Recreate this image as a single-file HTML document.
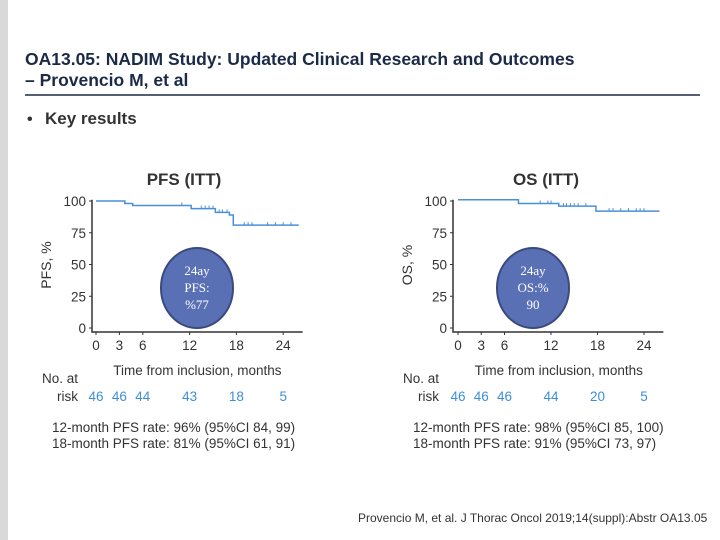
<!DOCTYPE html>
<html><head><meta charset="utf-8"><style>
body{margin:0;width:720px;height:540px;background:#fff;overflow:hidden;font-family:"Liberation Sans",sans-serif;position:relative}
</style></head><body>
<div style="position:absolute;left:0;top:0;width:8px;height:540px;background:#d9d9d9"></div>
<svg width="720" height="540" style="position:absolute;left:0;top:0" font-family="Liberation Sans, sans-serif">
<text x="25" y="65" font-size="17.5" font-weight="bold" fill="#1b2a47">OA13.05: NADIM Study: Updated Clinical Research and Outcomes</text>
<text x="25" y="86" font-size="17.5" font-weight="bold" fill="#1b2a47">– Provencio M, et al</text>
<line x1="25" y1="95" x2="700" y2="95" stroke="#1b2a47" stroke-width="1.5"/>
<text x="27" y="124" font-size="16" font-weight="bold" fill="#333">•</text>
<text x="45" y="124" font-size="17" font-weight="bold" fill="#333">Key results</text>
<g id="pfs"></g><g id="os"></g>
<text x="358" y="522" font-size="12" fill="#333">Provencio M, et al. J Thorac Oncol 2019;14(suppl):Abstr OA13.05</text>
</svg>
<script>
const xTicks=[0,3,6,12,18,24];
const yTicks=[0,25,50,75,100];
const pfsTimes=[0,3.7,4.7,12.2,15.3,17.1,17.6,26];
const pfsVals=[100,98,96.5,94,91,89,81,81];
const pfsCens=[11,13.5,14,14.5,15,15.8,16.2,16.8,19,19.5,20,22,23,24,25];
const osTimes=[0,7.8,13,17.8,26];
const osVals=[101,98,96,92,92];
const osCens=[10.6,11.6,12,13.6,14,14.5,15,15.5,16.5,19.5,20,21,22,23,23.5,24];
const pfsRisk=["46","46","44","43","18","5"];
const osRisk=["46","46","46","44","20","5"];
const NS="http://www.w3.org/2000/svg";
function mk(p,t,a){const e=document.createElementNS(NS,t);for(const k in a)e.setAttribute(k,a[k]);p.appendChild(e);return e;}
function chart(g,o){
 const x=v=>o.x0+v*o.sx, y=v=>o.y0-v*1.27;
 let t=mk(g,'text',{x:o.x0+88,y:185,'font-size':17,'font-weight':'bold',fill:'#333','text-anchor':'middle'});t.textContent=o.title;
 
 
 let yl=mk(g,'text',{transform:`translate(${o.ax-41},265) rotate(-90)`,'font-size':14,fill:'#333','text-anchor':'middle'});yl.textContent=o.ylab;
 
 
 let a=mk(g,'path',{d:`M${o.ax} ${y(101)}V${o.y0+4}H${x(26.5)}`,stroke:'#333','stroke-width':1.5,fill:'none'});
 
 
 yTicks.forEach(v=>{mk(g,'line',{x1:o.ax-3,x2:o.ax,y1:y(v),y2:y(v),stroke:'#333'});
  const l=mk(g,'text',{x:o.ax-6,y:y(v)+5,'font-size':13.5,fill:'#333','text-anchor':'end'});l.textContent=v;
  
  });
 xTicks.forEach(v=>{mk(g,'line',{x1:x(v),x2:x(v),y1:o.y0+4,y2:o.y0+7,stroke:'#333'});
  const l=mk(g,'text',{x:x(v),y:o.y0+22,'font-size':13.5,fill:'#333','text-anchor':'middle'});l.textContent=v;
  
  });
 let xl=mk(g,'text',{x:x(13),y:375,'font-size':13.5,fill:'#333','text-anchor':'middle'});xl.textContent='Time from inclusion, months';
 
 
 let d=`M${x(o.t[0])} ${y(o.v[0])}`;
 for(let i=1;i<o.t.length;i++){d+=`H${x(o.t[i])}V${y(o.v[i])}`;}
 let c=mk(g,'path',{d,stroke:'#4a90d9','stroke-width':1.5,fill:'none'});
 
 
 o.c.forEach(tc=>{let k=0;for(let i=0;i<o.t.length;i++)if(o.t[i]<=tc)k=i;
  const m=mk(g,'line',{x1:x(tc),x2:x(tc),y1:y(o.v[k])-3,y2:y(o.v[k]),stroke:'#4a90d9','stroke-width':1});
  
  });
 let r1=mk(g,'text',{x:o.ax-50,y:383,'font-size':13.5,fill:'#333'});r1.textContent='No. at';
 
 
 let r2=mk(g,'text',{x:o.ax-35,y:401,'font-size':13.5,fill:'#333'});r2.textContent='risk';
 
 
 o.r.forEach((v,i)=>{const l=mk(g,'text',{x:x(xTicks[i]),y:401,'font-size':13.5,fill:'#3d8fd8','text-anchor':'middle'});l.textContent=v;
  
  });
 o.notes.forEach((s,i)=>{const l=mk(g,'text',{x:o.ax-40,y:432+i*16,'font-size':13.5,fill:'#333'});l.textContent=s;
  
  });
 let e=mk(g,'ellipse',{cx:o.ex,cy:288,rx:36,ry:40,fill:'#5a70b5',stroke:'#3a4a80','stroke-width':2});
 
 
 o.bub.forEach((s,i)=>{const l=mk(g,'text',{x:o.ex,y:275+i*17,'font-size':13,fill:'#fff','text-anchor':'middle','font-family':'Liberation Serif, serif'});l.textContent=s;
  
  });
}
chart(document.getElementById('pfs'),{key:'pfs',title:'PFS (ITT)',ylab:'PFS, %',x0:96,sx:7.8,y0:328,ax:92,t:pfsTimes,v:pfsVals,c:pfsCens,r:pfsRisk,ex:197,bub:['24ay','PFS:','%77'],
 notes:['12-month PFS rate: 96% (95%CI 84, 99)','18-month PFS rate: 81% (95%CI 61, 91)']});
chart(document.getElementById('os'),{key:'os',title:'OS (ITT)',ylab:'OS, %',x0:458,sx:7.75,y0:328,ax:453,t:osTimes,v:osVals,c:osCens,r:osRisk,ex:533,bub:['24ay','OS:%','90'],
 notes:['12-month PFS rate: 98% (95%CI 85, 100)','18-month PFS rate: 91% (95%CI 73, 97)']});
</script>
</body></html>
